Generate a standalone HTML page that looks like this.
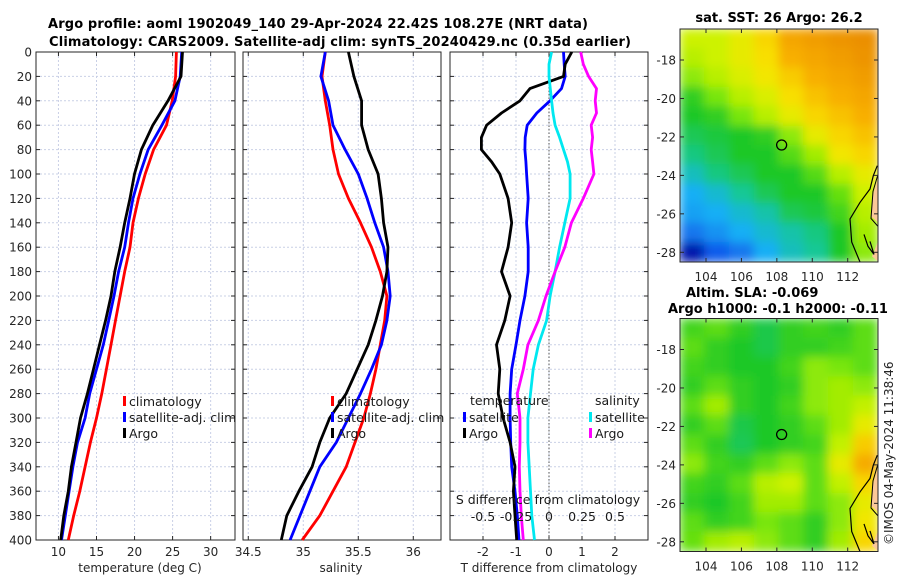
<!DOCTYPE html>
<html><head><meta charset="utf-8"><style>
html,body{margin:0;padding:0;background:#fff}
svg{display:block;font-family:"DejaVu Sans","Liberation Sans",sans-serif}
.tk{font-size:12px;fill:#262626}
.tt{font-size:13px;font-weight:bold;fill:#000}
.lg{font-size:12.5px;fill:#1a1a1a}
</style></head><body>
<svg id="c" width="900" height="580" viewBox="0 0 900 580">
<defs>
<filter id="bl" x="0" y="0" width="1" height="1"><feGaussianBlur stdDeviation="5" edgeMode="duplicate"/></filter>
<clipPath id="m1c"><rect x="680" y="29" width="198" height="233"/></clipPath>
<clipPath id="m2c"><rect x="680" y="319" width="198" height="232"/></clipPath>
</defs>
<text class="tt" x="318" y="28" text-anchor="middle" textLength="540">Argo profile: aoml 1902049_140 29-Apr-2024 22.42S 108.27E (NRT data)</text>
<text class="tt" x="340" y="46" text-anchor="middle" textLength="582">Climatology: CARS2009. Satellite-adj clim: synTS_20240429.nc (0.35d earlier)</text>
<text class="tt" x="779" y="22" text-anchor="middle">sat. SST: 26 Argo: 26.2</text>
<text class="tt" x="686" y="297">Altim. SLA: -0.069</text>
<text class="tt" x="778" y="313" text-anchor="middle">Argo h1000: -0.1 h2000: -0.11</text>
<text class="tk" transform="translate(893,545) rotate(-90)">©IMOS 04-May-2024 11:38:46</text>
</svg>
<script>
const depths=[0,20,40,60,80,100,120,140,160,180,200,220,240,260,280,300,320,340,360,380,400];
const tClim=[25.5,25.4,24.95,24.2,22.5,21.4,20.5,19.8,19.4,18.7,18.1,17.5,16.9,16.3,15.7,15.0,14.2,13.5,12.8,12.0,11.3];
const tSat=[26.2,26.0,25.3,23.6,21.8,20.7,19.8,19.2,18.7,17.9,17.3,16.6,15.9,15.0,14.1,13.5,12.5,11.9,11.4,10.9,10.4];
const tArgo=[26.3,26.1,24.4,22.4,20.9,20.0,19.4,18.7,18.1,17.4,16.9,16.2,15.4,14.6,13.8,12.9,12.3,11.7,11.3,10.7,10.3];
const sClim=[35.20,35.17,35.20,35.24,35.27,35.32,35.41,35.52,35.62,35.70,35.76,35.74,35.70,35.66,35.61,35.55,35.47,35.39,35.27,35.15,34.99];
const sSat=[35.20,35.16,35.23,35.27,35.38,35.50,35.58,35.65,35.73,35.77,35.79,35.76,35.71,35.62,35.52,35.41,35.30,35.15,35.06,34.97,34.88];
const sArgo=[35.41,35.46,35.53,35.53,35.59,35.68,35.71,35.73,35.77,35.76,35.72,35.66,35.59,35.49,35.39,35.24,35.15,35.08,34.96,34.85,34.80];
const dDepths=[0,10,20,30,40,50,60,70,80,90,100,120,140,160,180,200,220,240,260,280,300,320,340,360,380,400];
const dTArgo=[0.69,0.49,0.44,-0.58,-0.88,-1.44,-1.89,-2.05,-2.05,-1.74,-1.49,-1.24,-1.13,-1.24,-1.44,-1.18,-1.34,-1.59,-1.49,-1.54,-1.39,-1.18,-1.03,-1.08,-1.03,-0.98];
const dTSat=[0.44,0.46,0.49,0.38,0.03,-0.37,-0.66,-0.72,-0.73,-0.70,-0.68,-0.63,-0.68,-0.63,-0.63,-0.73,-0.88,-1.0,-1.13,-1.18,-1.18,-1.16,-1.13,-1.03,-0.96,-0.91];
const dSSat=[0.02,0,0,0.01,0.02,0.03,0.046,0.08,0.11,0.14,0.16,0.16,0.12,0.08,0.046,0.008,-0.018,-0.08,-0.12,-0.14,-0.16,-0.16,-0.15,-0.14,-0.13,-0.11];
const dSArgo=[0.24,0.26,0.30,0.36,0.35,0.36,0.32,0.33,0.32,0.33,0.34,0.26,0.17,0.12,0.046,-0.023,-0.08,-0.16,-0.195,-0.24,-0.22,-0.22,-0.225,-0.22,-0.21,-0.195];
const depthTicks=[0,20,40,60,80,100,120,140,160,180,200,220,240,260,280,300,320,340,360,380,400];
const tTicks=[10,15,20,25,30];
const sTicks=[34.5,35,35.5,36];
const dTTicks=[-2,-1,0,1,2];
const dSTickLabels=["-0.5","-0.25","0","0.25","0.5"];
const dSTickVals=[-0.5,-0.25,0,0.25,0.5];
const latTicks=[-18,-20,-22,-24,-26,-28];
const lonTicks=[104,106,108,110,112];
const sstGrid=[
[.68,.68,.72,.78,.88,.9,.92,.93],[.66,.68,.72,.76,.86,.88,.9,.92],[.62,.66,.7,.74,.8,.86,.88,.9],
[.52,.6,.66,.7,.76,.82,.86,.88],[.5,.52,.6,.66,.72,.78,.82,.86],[.46,.48,.5,.52,.62,.72,.78,.82],
[.42,.46,.5,.5,.56,.64,.74,.78],[.36,.42,.46,.5,.5,.56,.66,.72],[.3,.34,.4,.46,.5,.5,.58,.68],
[.28,.3,.34,.38,.46,.48,.54,.66],[.22,.26,.3,.34,.38,.42,.5,.64],[.05,.18,.22,.3,.36,.4,.5,.62]];
const slaGrid=[
[.54,.57,.52,.47,.52,.54,.52,.57],[.57,.52,.5,.47,.52,.52,.54,.57],[.54,.52,.5,.5,.54,.62,.6,.57],
[.52,.57,.52,.5,.52,.62,.64,.62],[.57,.64,.52,.5,.54,.62,.64,.67],[.52,.57,.47,.5,.52,.57,.64,.72],
[.57,.52,.46,.5,.52,.54,.67,.8],[.62,.54,.52,.57,.62,.57,.72,.87],[.54,.52,.57,.66,.68,.57,.67,.78],
[.52,.5,.54,.64,.64,.57,.62,.72],[.57,.52,.54,.6,.57,.52,.62,.74],[.58,.64,.66,.62,.57,.52,.64,.78]];
const argoLon=108.27, argoLat=-22.42;

const svg=document.getElementById('c');
const NS='http://www.w3.org/2000/svg';
function mk(tag,attrs,parent){const e=document.createElementNS(NS,tag);for(const k in attrs)e.setAttribute(k,attrs[k]);(parent||svg).appendChild(e);return e;}
const Y0=52,Y1=540;
const yD=d=>Y0+(d/400)*(Y1-Y0);
function panel(x0,x1,dmin,dmax,ticks,tickLabels,name,showY){
  const g=mk('g',{});
  
  
  const xs=v=>x0+(v-dmin)/(dmax-dmin)*(x1-x0);
  ticks.forEach((t,i)=>{
    const l=mk('line',{x1:xs(t),x2:xs(t),y1:Y0,y2:Y1,stroke:'#c9d0e6','stroke-width':1,'stroke-dasharray':'2,2'},g);
    
    mk('line',{x1:xs(t),x2:xs(t),y1:Y1,y2:Y1-4,stroke:'#262626'},g);
    mk('line',{x1:xs(t),x2:xs(t),y1:Y0,y2:Y0+4,stroke:'#262626'},g);
    if(tickLabels){const tx=mk('text',{x:xs(t),y:556,'text-anchor':'middle',class:'tk'},g);tx.textContent=tickLabels[i];
      }
  });
  depthTicks.forEach(d=>{
    mk('line',{x1:x0,x2:x1,y1:yD(d),y2:yD(d),stroke:'#c9d0e6','stroke-width':1,'stroke-dasharray':'2,2'},g);
    mk('line',{x1:x0,x2:x0+4,y1:yD(d),y2:yD(d),stroke:'#262626'},g);
    mk('line',{x1:x1,x2:x1-4,y1:yD(d),y2:yD(d),stroke:'#262626'},g);
    if(showY){const tx=mk('text',{x:x0-4,y:yD(d)+4.5,'text-anchor':'end',class:'tk'},g);tx.textContent=d;
      }
  });
  mk('rect',{x:x0,y:Y0,width:x1-x0,height:Y1-Y0,fill:'none',stroke:'#262626','stroke-width':1},g);
  return xs;
}
function line(xs,vals,dep,color,name,w){
  const p=mk('polyline',{points:vals.map((v,i)=>xs(v).toFixed(1)+','+yD(dep[i]).toFixed(1)).join(' '),fill:'none',stroke:color,'stroke-width':w||2.8,'stroke-linejoin':'round'});
  
  
}
function txt(x,y,s,cls,name,anchor){const t=mk('text',{x:x,y:y,class:cls,'text-anchor':anchor||'start'});t.textContent=s;
  return t;}
function legItem(x,y,color,label,name){
  mk('rect',{x:x,y:y-10,width:3,height:10,fill:color});
  txt(x+6,y,label,'lg',name);
}
const xT=panel(36,235,7.05,33.2,tTicks,tTicks.map(String),'temperature-panel',true);
line(xT,tClim,depths,'#ff0000','temperature-climatology-line');
line(xT,tSat,depths,'#0000ff','temperature-satellite-line');
line(xT,tArgo,depths,'#000000','temperature-argo-line');
txt(140,572,'temperature (deg C)','tk','x-axis-title-temperature','middle').setAttribute('font-size','12.5');
legItem(123,406,'#ff0000','climatology','legend-climatology');
legItem(123,422,'#0000ff','satellite-adj. clim','legend-satellite-adj');
legItem(123,438,'#000000','Argo','legend-argo');
const xS=panel(243,441,34.452,36.252,sTicks,sTicks.map(String),'salinity-panel',false);
line(xS,sClim,depths,'#ff0000','salinity-climatology-line');
line(xS,sSat,depths,'#0000ff','salinity-satellite-line');
line(xS,sArgo,depths,'#000000','salinity-argo-line');
txt(341,572,'salinity','tk','x-axis-title-salinity','middle').setAttribute('font-size','12.5');
legItem(331,406,'#ff0000','climatology','legend-climatology-2');
legItem(331,422,'#0000ff','satellite-adj. clim','legend-satellite-adj-2');
legItem(331,438,'#000000','Argo','legend-argo-2');
const xD=panel(450,648,-3.0,3.0,dTTicks,dTTicks.map(String),'difference-panel',false);
mk('line',{x1:xD(0),x2:xD(0),y1:Y0,y2:Y1,stroke:'#555','stroke-width':1,'stroke-dasharray':'1.5,2'});
const xDS=v=>xD(v*4);
line(xD,dTSat,dDepths,'#0000ff','t-diff-satellite-line');
line(xD,dTArgo,dDepths,'#000000','t-diff-argo-line');
line(xDS,dSSat,dDepths,'#00e8f0','s-diff-satellite-line');
line(xDS,dSArgo,dDepths,'#ff00ff','s-diff-argo-line');
txt(470,405,'temperature','lg','legend-temperature-heading');
legItem(463,422,'#0000ff','satellite','legend-t-satellite');
legItem(463,438,'#000000','Argo','legend-t-argo');
txt(595,405,'salinity','lg','legend-salinity-heading');
legItem(589,422,'#00e8f0','satellite','legend-s-satellite');
legItem(589,438,'#ff00ff','Argo','legend-s-argo');
txt(548,504,'S difference from climatology','lg','s-diff-axis-title','middle');
dSTickVals.forEach((v,i)=>txt(xDS(v),521,dSTickLabels[i],'lg','s-diff-tick-label','middle'));
txt(549,572,'T difference from climatology','tk','t-diff-axis-title','middle').setAttribute('font-size','12.5');
const stops=[[0,[0,0,130]],[.12,[10,50,230]],[.3,[25,175,245]],[.4,[20,200,150]],[.5,[30,200,40]],[.6,[120,230,10]],[.68,[205,242,0]],[.75,[248,228,0]],[.86,[248,175,0]],[.96,[230,130,0]]];
function cmap(v){for(let i=1;i<stops.length;i++){if(v<=stops[i][0]){const a=stops[i-1],b=stops[i],f=(v-a[0])/(b[0]-a[0]);
  return 'rgb('+a[1].map((c,k)=>Math.round(c+(b[1][k]-c)*f)).join(',')+')';}}return 'rgb(230,130,0)';}
function map(top,grid,name,clip){
  const x0=680,x1=878,y1=top+233;
  const lonX=lo=>706+(lo-104)*(847.7-706)/8;
  const latY=la=>top+31+(-18-la)*(192.3/10);
  const g=mk('g',{'clip-path':'url(#'+clip+')'});
  
  
  const inner=mk('g',{filter:'url(#bl)'},g);
  const rows=grid.length,cols=grid[0].length,cw=(x1-x0)/cols,ch=233/rows;
  grid.forEach((r,i)=>r.forEach((v,j)=>{
    const c=mk('rect',{x:x0+j*cw-0.5,y:top+i*ch-0.5,width:cw+1,height:ch+1,fill:cmap(v)},inner);
    
  }));
  const cpts=[[877.3,-0.7],[873.3,9.3],[870,22.6],[860,36],[850,52.6],[851.7,75.6],[860,95.6],[866.7,115.6],[869.3,124]];
  const ty=top+137.4;
  mk('polygon',{points:'878,'+(ty+12)+' 873,'+(ty+28)+' 871,'+(ty+50)+' 878,'+(ty+56),fill:'#fbc898'},g);
  mk('polygon',{points:'878,'+(ty+75)+' 872,'+(ty+90)+' 878,'+(ty+95),fill:'#fbc898'},g);
  const cl=mk('polyline',{points:cpts.map(p=>p[0]+','+(ty+p[1])).join(' '),fill:'none',stroke:'#000','stroke-width':1.2},g);
  
  mk('polyline',{points:'878,'+(ty+8)+' 873,'+(ty+25)+' 871,'+(ty+52)+' 878,'+(ty+60),fill:'none',stroke:'#000','stroke-width':1},g);
  mk('polyline',{points:'864,'+(ty+68)+' 868,'+(ty+80)+' 874,'+(ty+88)+' 870,'+(ty+75),fill:'none',stroke:'#000','stroke-width':1.2},g);
  const ci=mk('circle',{cx:lonX(argoLon),cy:latY(argoLat),r:5,fill:'none',stroke:'#000','stroke-width':1.3});
  
  mk('rect',{x:x0,y:top,width:x1-x0,height:233,fill:'none',stroke:'#262626'});
  latTicks.forEach(la=>{const y=latY(la);
    mk('line',{x1:x0,x2:x0+4,y1:y,y2:y,stroke:'#262626'});mk('line',{x1:x1,x2:x1-4,y1:y,y2:y,stroke:'#262626'});
    txt(676,y+4.5,String(la),'tk','lat-tick-label','end');});
  lonTicks.forEach(lo=>{const x=lonX(lo);
    mk('line',{x1:x,x2:x,y1:y1,y2:y1-4,stroke:'#262626'});mk('line',{x1:x,x2:x,y1:top,y2:top+4,stroke:'#262626'});
    txt(x,y1+19,String(lo),'tk','lon-tick-label','middle');});
}
map(29,sstGrid,'sst-map','m1c');
map(318.5,slaGrid,'sla-map','m2c');
</script>
</body></html>
